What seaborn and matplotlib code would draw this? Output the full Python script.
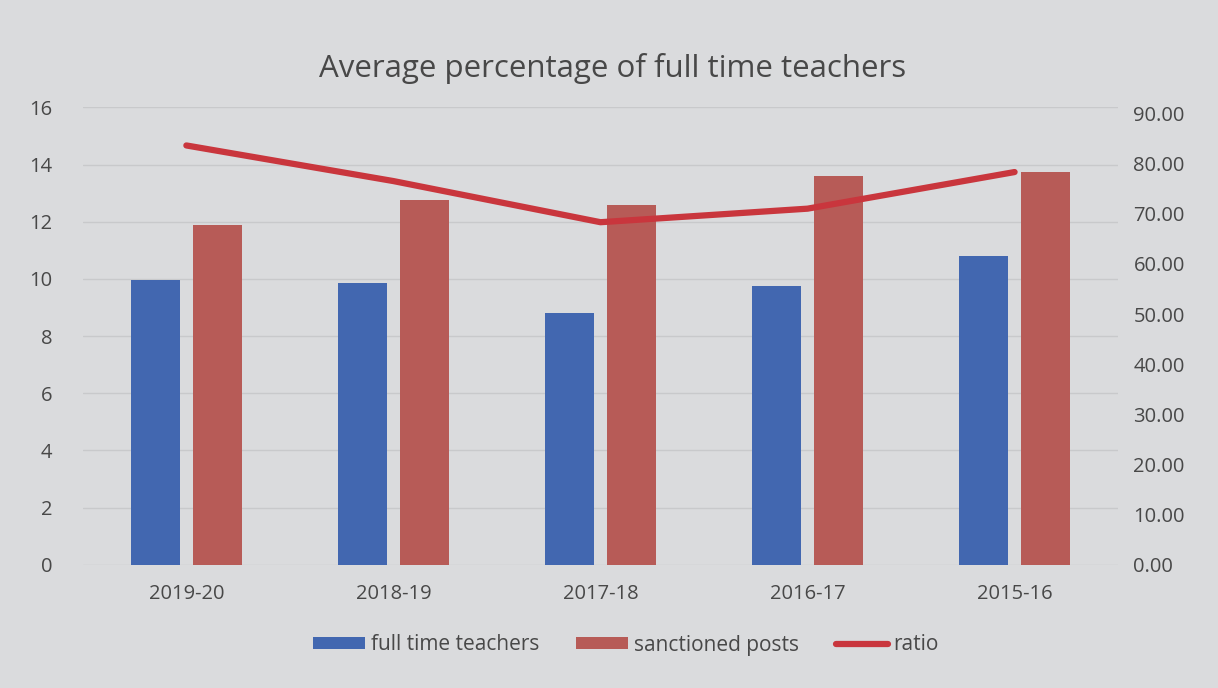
import numpy as np
import pandas as pd
import matplotlib
matplotlib.use("Agg")
import matplotlib.pyplot as plt
import seaborn as sns
from matplotlib.patches import Patch
from matplotlib.lines import Line2D

years = ["2019-20", "2018-19", "2017-18", "2016-17", "2015-16"]
full_time_teachers = [9.95, 9.85, 8.8, 9.75, 10.8]
sanctioned_posts = [11.9, 12.75, 12.6, 13.6, 13.75]
ratio = [83.6, 76.5, 68.3, 71.0, 78.3]

left_ticks = [0, 2, 4, 6, 8, 10, 12, 14, 16]
right_ticks = [0, 10, 20, 30, 40, 50, 60, 70, 80, 90]

BG = "#dadbdd"
BLUE = "#4267b0"
RED = "#b75b57"
LINE = "#c9363d"
TXT = "#484848"

sns.set_theme(style="white")
plt.rcParams["font.family"] = ["Open Sans", "DejaVu Sans"]

df = pd.DataFrame({
    "year": years * 2,
    "value": full_time_teachers + sanctioned_posts,
    "series": ["full time teachers"] * len(years) + ["sanctioned posts"] * len(years),
})

fig = plt.figure(figsize=(12.18, 6.88), dpi=100)
fig.patch.set_facecolor(BG)
ax = fig.add_axes([0.068, 0.179, 0.85, 0.665])
ax.set_facecolor(BG)

sns.barplot(data=df, x="year", y="value", hue="series", order=years,
            palette=[BLUE, RED], width=0.60, gap=0.21, ax=ax, legend=False,
            saturation=1, linewidth=0, edgecolor="none")
ax.set_ylim(0, 16)
ax.set_yticks(left_ticks)
ax.set_xlim(-0.5, len(years) - 0.5)
ax.grid(axis="y", color="#c8c9cb", linewidth=1)
ax.set_axisbelow(True)
for s in ax.spines.values():
    s.set_visible(False)
ax.set_xlabel("")
ax.set_ylabel("")
ax.tick_params(axis="both", length=0, labelsize=14.5, colors=TXT)
ax.tick_params(axis="x", pad=14)
ax.tick_params(axis="y", pad=22)

ax2 = ax.twinx()
sns.lineplot(x=np.arange(len(years)), y=ratio, ax=ax2, color=LINE, linewidth=4.5)
ax2.set_ylim(0, 91.2)
ax2.set_yticks(right_ticks)
ax2.set_yticklabels([f"{t:.2f}" for t in right_ticks])
for s in ax2.spines.values():
    s.set_visible(False)
ax2.tick_params(axis="y", length=0, labelsize=14.5, colors=TXT, pad=11)
ax2.set_ylabel("")

fig.text(0.503, 0.9, "Average percentage of full time teachers",
         ha="center", va="center", fontsize=22.5, color=TXT)

handles = [Patch(facecolor=BLUE, edgecolor="none"),
           Patch(facecolor=RED, edgecolor="none"),
           Line2D([0], [0], color=LINE, linewidth=4.5)]
labels = ["full time teachers", "sanctioned posts", "ratio"]
fig.legend(handles, labels, loc="center", bbox_to_anchor=(0.514, 0.0625),
           ncol=3, frameon=False, fontsize=15, handlelength=2.5,
           handleheight=0.5, handletextpad=0.25, columnspacing=1.8,
           labelcolor=TXT)

fig.savefig("out.png", dpi=100, facecolor=BG)
